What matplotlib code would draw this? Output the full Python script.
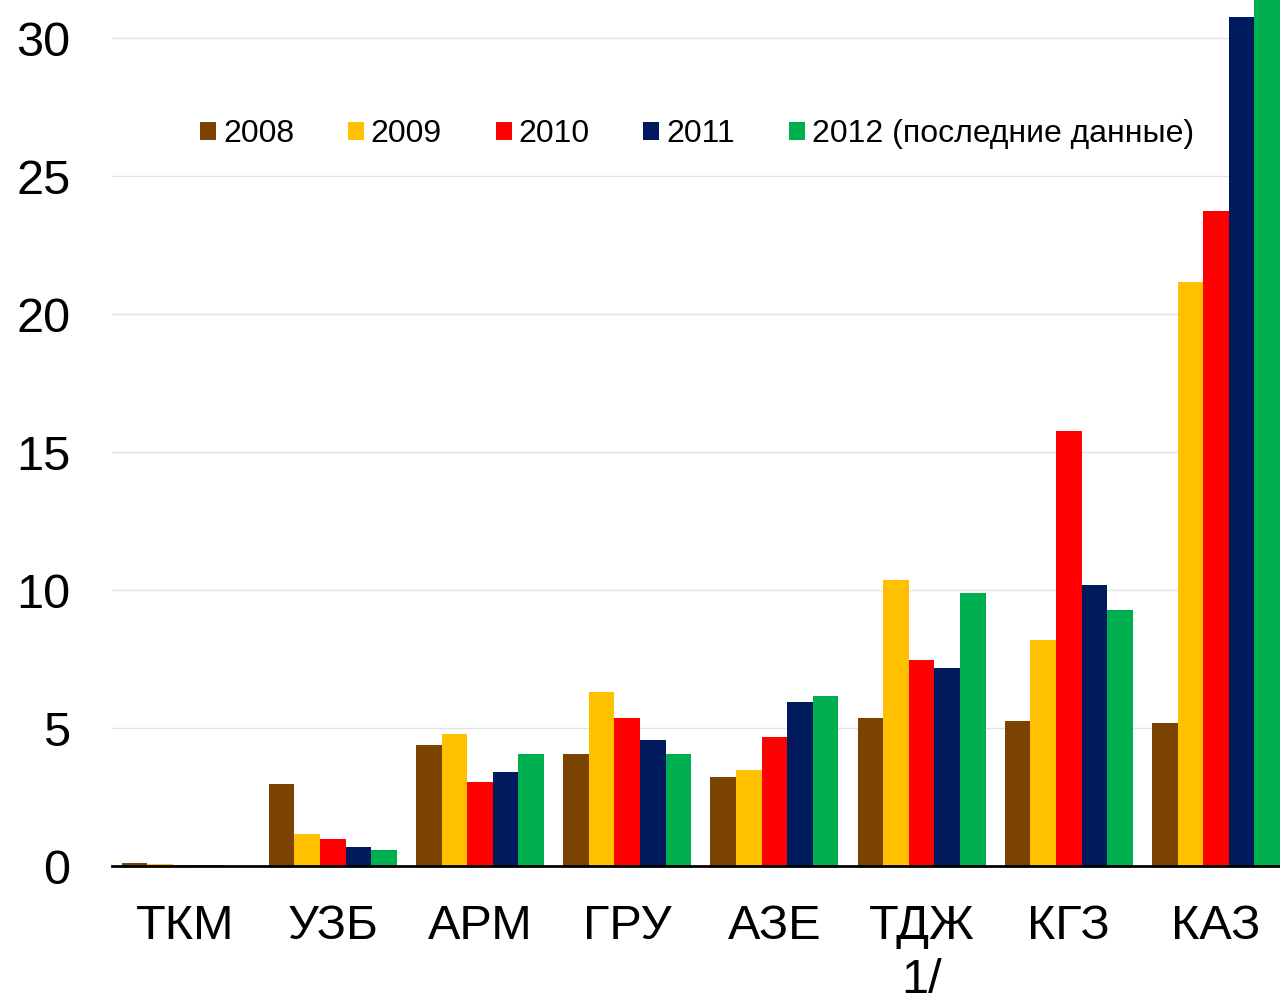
import numpy as np
import matplotlib
matplotlib.use('Agg')
import matplotlib.pyplot as plt

plt.rcParams['font.family'] = ['Liberation Sans', 'DejaVu Sans']

# страны и значения по годам
countries = ['ТКМ', 'УЗБ', 'АРМ', 'ГРУ', 'АЗЕ', 'ТДЖ\n1/', 'КГЗ', 'КАЗ']
years = ['2008', '2009', '2010', '2011', '2012 (последние данные)']
v2008 = [0.12, 2.97, 4.38, 4.06, 3.22, 5.36, 5.25, 5.18]
v2009 = [0.08, 1.16, 4.78, 6.30, 3.48, 10.36, 8.19, 21.16]
v2010 = [0.03, 0.98, 3.04, 5.36, 4.67, 7.46, 15.76, 23.73]
v2011 = [0.05, 0.69, 3.40, 4.57, 5.94, 7.17, 10.18, 30.76]
v2012 = [0.0, 0.58, 4.06, 4.06, 6.16, 9.89, 9.28, 33.0]
series = [v2008, v2009, v2010, v2011, v2012]
colors = ['#7B4300', '#FFC000', '#FF0000', '#001A5E', '#00B050']

fig = plt.figure(figsize=(12.8, 9.97), dpi=100)
ax = fig.add_axes([112/1280, 131/997, 1168/1280, 866/997])

x = np.arange(len(countries))
w = 0.174
for i, (vals, c, lab) in enumerate(zip(series, colors, years)):
    ax.bar(x + (i - 2) * w, vals, w, color=c, label=lab, linewidth=0, zorder=3)

ax.set_xlim(-0.5, 7.435)
ax.set_ylim(0, 866/27.6)
ax.set_yticks([0, 5, 10, 15, 20, 25, 30])
ax.set_xticks(x)
ax.set_xticklabels(countries, fontsize=35, linespacing=1.28)
ax.tick_params(axis='y', labelsize=35, length=0, pad=30)
ax.tick_params(axis='x', length=0, pad=27)

ax.grid(axis='y', color='#E2E2E2', linewidth=1, zorder=0)
for s in ['top', 'right', 'left']:
    ax.spines[s].set_visible(False)
ax.spines['bottom'].set_linewidth(2)
ax.spines['bottom'].set_zorder(4)

fig.legend(loc='center left', bbox_to_anchor=(200/1280, 1 - 134/997), ncol=5,
           frameon=False, fontsize=23, handlelength=0.5, handleheight=0.5,
           handletextpad=0.22, columnspacing=1.68, borderpad=0, borderaxespad=0)

fig.savefig('out.png', dpi=100)
